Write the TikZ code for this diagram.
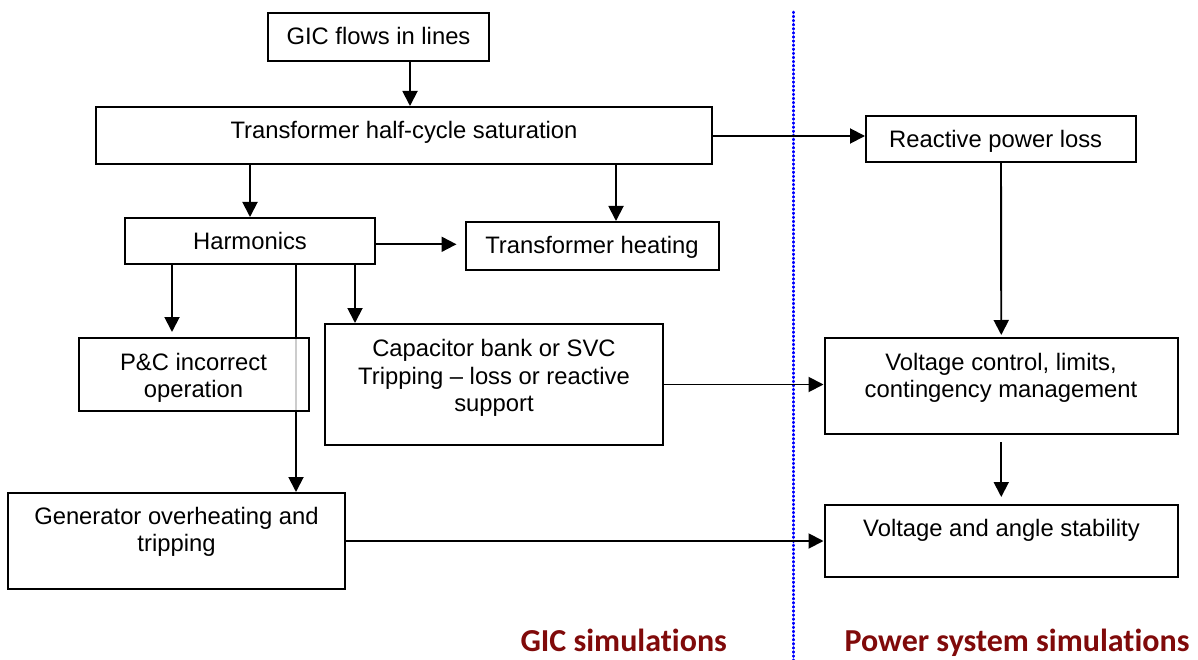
\documentclass[tikz,border=0pt]{standalone}
\usepackage{fontspec}
\setmainfont{Liberation Sans}
\newfontfamily\calib[Ligatures=NoCommon]{Carlito}
\usetikzlibrary{arrows.meta}
\definecolor{lblred}{RGB}{128,10,10}
\begin{document}
\begin{tikzpicture}[x=1pt,y=-1pt,
  box/.style={draw, line width=2pt, inner sep=0pt, fill=white},
  lbl/.style={font=\fontsize{23.8}{27.3}\selectfont, inner sep=0pt},
  mlbl/.style={font=\fontsize{23.8}{27.3}\selectfont, inner sep=0pt, align=center, anchor=north},
  arr/.style={-{Triangle[length=15pt,width=15pt]}, line width=1.9pt},
  simlbl/.style={font=\calib\bfseries\fontsize{32}{36}\selectfont, text=lblred, inner sep=0pt, anchor=base}]
\useasboundingbox (0,0) rectangle (1198,660);

% dotted separator
\coordinate (dtop) at (793.6,12);
\coordinate (dbot) at (793.6,660);
\draw[blue, line width=2.7pt, line cap=round, dash pattern=on 0.8pt off 3.3pt] (dtop) -- (dbot);

% boxes
\node[box, minimum width=221pt, minimum height=48pt] (gic) at (378.5,37) {};
\node[box, minimum width=616pt, minimum height=57pt] (sat) at (404,135.5) {};
\node[box, minimum width=250pt, minimum height=46pt] (harm) at (250,241) {};
\node[box, minimum width=252.5pt, minimum height=48pt] (theat) at (592.25,246) {};
\node[box, minimum width=270pt, minimum height=46pt] (rpl) at (1001,139) {};
\node[box, minimum width=338pt, minimum height=121pt] (cap) at (494,384.5) {};
\node[box, minimum width=353.5pt, minimum height=96pt] (vc) at (1001.25,386) {};
\node[box, minimum width=337pt, minimum height=96pt] (gen) at (176.5,541) {};
\node[box, minimum width=353.5pt, minimum height=72pt] (stab) at (1001.25,541) {};

% arrow passing behind the P&C box
\draw[arr] (296,0 |- harm.south) -- (296,0 |- gen.north);
\node[box, fill opacity=0.8, draw opacity=1, minimum width=230pt, minimum height=73pt] (pc) at (193.5,374.5) {};

% texts
\node[lbl, anchor=base] (tgic) at (378.5,45) {GIC flows in lines};
\node[lbl, anchor=base] (tsat) at (404,138.3) {Transformer half-cycle saturation};
\node[lbl, anchor=base] (tharm) at (250,249) {Harmonics};
\node[lbl, anchor=base] (ttheat) at (592,254) {Transformer heating};
\node[lbl, anchor=base] (trpl) at (995.7,147.7) {Reactive power loss};
\node[mlbl] (tpc) at (193.5,352.7) {P\&C incorrect\\operation};
\node[mlbl] (tcap) at (494,339.4) {Capacitor bank or SVC\\Tripping -- loss or reactive\\support};
\node[mlbl] (tvc) at (1001,352.7) {Voltage control, limits,\\contingency management};
\node[lbl, anchor=base] (tstab) at (1001.5,536.7) {Voltage and angle stability};
\node[mlbl] (tgen) at (176.5,506.7) {Generator overheating and\\tripping};

% connectors
\draw[arr] (410,0 |- gic.south) -- (410,0 |- sat.north);
\draw[arr] (harm.north |- sat.south) -- (harm.north);
\draw[arr] (616,0 |- sat.south) -- (616,0 |- theat.north);
\draw[arr] (sat.east |- 0,136) -- (rpl.west |- 0,136);
\draw[arr, shorten >=8.5pt] (harm.east |- 0,244.3) -- (theat.west |- 0,244.3);
\draw[arr, shorten >=5pt] (172,0 |- harm.south) -- (172,0 |- pc.north);
\draw[arr] (355,0 |- harm.south) -- (355,0 |- cap.north);
\draw[arr] (cap.east) -- (cap.east -| vc.west);
\draw[arr, shorten >=2pt] (rpl.south) -- (vc.north);
\draw[arr, shorten <=7pt, shorten >=7pt] (vc.south) -- (stab.north);
\draw[arr] (gen.east) -- (stab.west);

% section labels
\node[simlbl] (lgic) at (623.7,651) {GIC simulations};
\node[simlbl] (lpow) at (1017,651) {Power system simulations};
\end{tikzpicture}
\end{document}
